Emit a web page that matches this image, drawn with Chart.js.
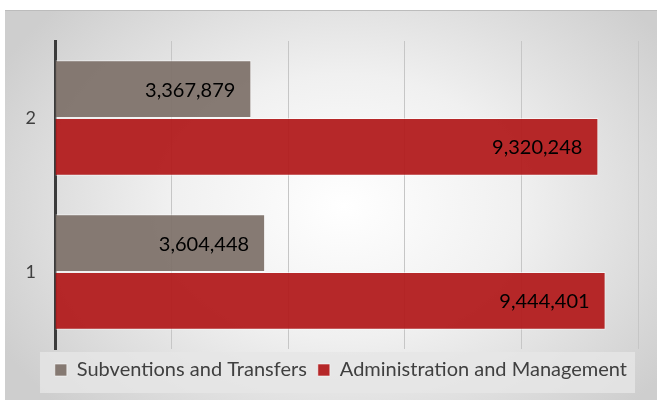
<!DOCTYPE html>
<html>
<head>
<meta charset="utf-8">
<script src="https://cdn.jsdelivr.net/npm/chart.js@4/dist/chart.umd.min.js"></script>
<style>
  html, body { margin: 0; padding: 0; background: #ffffff; }
  body { width: 657px; height: 400px; position: relative; overflow: hidden; }
  #frame {
    position: absolute; left: 5px; top: 10px; width: 652px; height: 390px;
    border-top: 1px solid #bcbcbc;
    background: radial-gradient(ellipse 60% 75% at 52% 50%, #ffffff 0%, #f0f0f0 45%, #cecece 100%);
  }
  canvas { position: absolute; left: 0; top: 0; }
</style>
</head>
<body>
<div id="frame"><canvas id="chart" width="652" height="389"></canvas></div>
<script>
// data
const categories = ['1', '2']
const subventions = [3604448, 3367879]
const administration = [9444401, 9320248]
const seriesNames = ['Subventions and Transfers', 'Administration and Management']
const xMax = 10000000
const xStep = 2000000

// value labels drawn inside the end of each bar
const valueLabels = {
  id: 'valueLabels',
  afterDatasetsDraw(chart) {
    const ctx = chart.ctx
    ctx.save()
    ctx.font = '20px Lato'
    ctx.fillStyle = '#000000'
    ctx.textAlign = 'right'
    ctx.textBaseline = 'middle'
    chart.data.datasets.forEach((ds, i) => {
      chart.getDatasetMeta(i).data.forEach((bar, j) => {
        ctx.fillText(ds.data[j].toLocaleString('en-US'), bar.x - 16, bar.y + 1)
      })
    })
    ctx.restore()
  }
}

// pale box behind the legend
const legendBox = {
  id: 'legendBox',
  beforeDraw(chart) {
    const area = chart.chartArea
    const ctx = chart.ctx
    ctx.save()
    ctx.fillStyle = 'rgba(230,230,230,0.8)'
    ctx.fillRect(area.left - 15, area.bottom + 3, area.right - area.left + 12, 41)
    ctx.restore()
  }
}

const ctx = document.getElementById('chart')
new Chart(ctx, {
  type: 'bar',
  data: {
    labels: categories,
    datasets: [{
      label: seriesNames[0],
      data: subventions,
      backgroundColor: 'rgba(128,115,107,0.95)',
      borderColor: 'rgba(255,255,255,0.55)',
      borderWidth: 1
    }, {
      label: seriesNames[1],
      data: administration,
      backgroundColor: 'rgba(178,28,30,0.95)',
      borderColor: 'rgba(255,255,255,0.55)',
      borderWidth: 1
    }]
  },
  options: {
    indexAxis: 'y',
    responsive: false,
    animation: false,
    devicePixelRatio: 1,
    categoryPercentage: 0.75,
    barPercentage: 1,
    layout: { padding: { left: 12, right: 19, top: 30, bottom: 10 } },
    scales: {
      x: {
        min: 0,
        max: xMax,
        ticks: { stepSize: xStep, display: false },
        grid: { color: '#c6c6c6', drawTicks: false },
        border: { display: false }
      },
      y: {
        reverse: true,
        grid: { display: false, drawTicks: false },
        border: { color: '#3b3b3b', width: 3 },
        ticks: { color: '#404040', padding: 19, font: { family: 'Lato', size: 18 } },
        afterFit(scale) { scale.width = 38 }
      }
    },
    plugins: {
      tooltip: { enabled: false },
      legend: {
        position: 'bottom',
        align: 'end',
        labels: {
          boxWidth: 12,
          boxHeight: 12,
          padding: 11,
          color: '#404040',
          font: { family: 'Lato', size: 20 }
        }
      }
    }
  },
  plugins: [legendBox, valueLabels]
})
</script>
</body>
</html>
